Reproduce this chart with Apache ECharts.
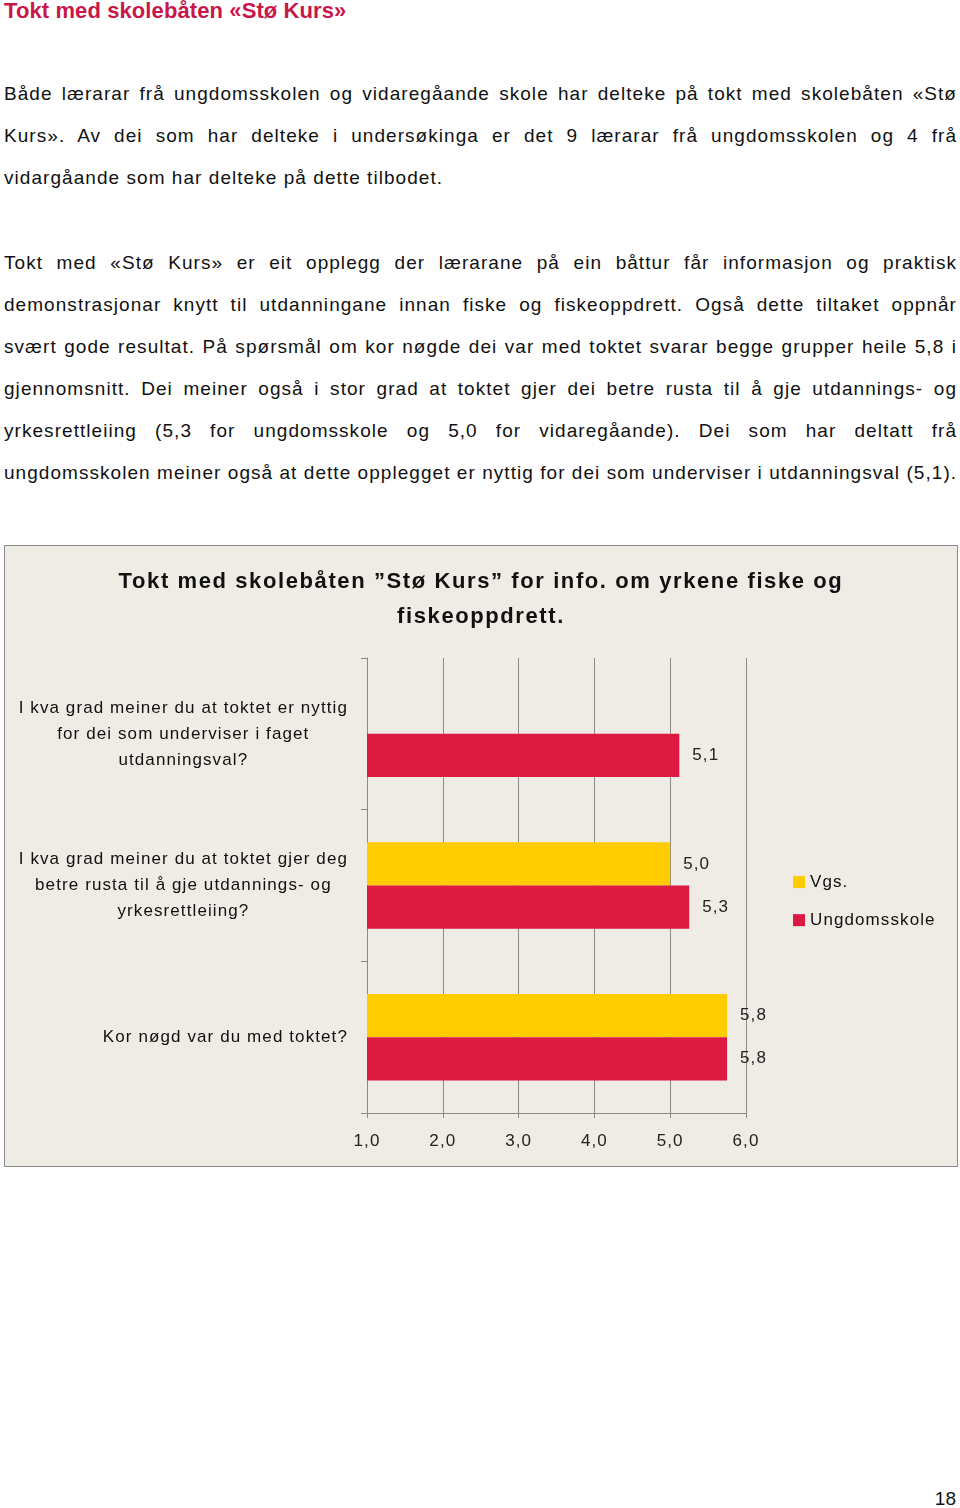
<!DOCTYPE html>
<html>
<head>
<meta charset="utf-8">
<script src="https://cdn.jsdelivr.net/npm/echarts@6/dist/echarts.min.js"></script>
<style>
  html, body { margin: 0; padding: 0; background: #fff; }
  body { width: 960px; height: 1508px; position: relative; overflow: hidden; font-family: "Liberation Sans", Arial, sans-serif; color: #111; }
  .h1 { position: absolute; left: 4px; top: -2px; font-size: 22px; font-weight: bold; color: #c8174a; line-height: 26px; white-space: nowrap; letter-spacing: 0.1px; }
  .para { position: absolute; left: 4px; width: 953px; font-size: 19px; line-height: 42px; letter-spacing: 1.05px; }
  .para div { white-space: nowrap; text-align: justify; text-align-last: justify; }
  .para div.last { text-align: left; text-align-last: left; }
  #chart { position: absolute; left: 4px; top: 545px; width: 954px; height: 622px; box-sizing: border-box; border: 1px solid #8c8c8c; background: #efebe5; }
  .pnum { position: absolute; right: 4px; top: 1487px; font-size: 19px; line-height: 24px; }
</style>
</head>
<body>
<div class="h1">Tokt med skolebåten «Stø Kurs»</div>
<div class="para" style="top:73px">
  <div>Både lærarar frå ungdomsskolen og vidaregåande skole har delteke på tokt med skolebåten «Stø</div>
  <div>Kurs». Av dei som har delteke i undersøkinga er det 9 lærarar frå ungdomsskolen og 4 frå</div>
  <div class="last">vidargåande som har delteke på dette tilbodet.</div>
</div>
<div class="para" style="top:242px">
  <div>Tokt med «Stø Kurs» er eit opplegg der lærarane på ein båttur får informasjon og praktisk</div>
  <div>demonstrasjonar knytt til utdanningane innan fiske og fiskeoppdrett. Også dette tiltaket oppnår</div>
  <div>svært gode resultat. På spørsmål om kor nøgde dei var med toktet svarar begge grupper heile 5,8 i</div>
  <div>gjennomsnitt. Dei meiner også i stor grad at toktet gjer dei betre rusta til å gje utdannings- og</div>
  <div>yrkesrettleiing (5,3 for ungdomsskole og 5,0 for vidaregåande). Dei som har deltatt frå</div>
  <div class="last">ungdomsskolen meiner også at dette opplegget er nyttig for dei som underviser i utdanningsval (5,1).</div>
</div>
<div id="chart"></div>
<div class="pnum">18</div>
<script>
const chartTitle = "Tokt med skolebåten ”Stø Kurs” for info. om yrkene fiske og\nfiskeoppdrett.";
const categories = [
  "I kva grad meiner du at toktet er nyttig\nfor dei som underviser i faget\nutdanningsval?",
  "I kva grad meiner du at toktet gjer deg\nbetre rusta til å gje utdannings- og\nyrkesrettleiing?",
  "Kor nøgd var du med toktet?"
];
const seriesNames = ["Vgs.", "Ungdomsskole"];
const vgsValues = [null, 5.0, 5.75];
const ungdomValues = [5.12, 5.25, 5.75];
const xTickMin = 1, xTickMax = 6, xTickStep = 1;

// Letter spacing for canvas text (the source PDF text is tracked wider); applied to both
// measuring and drawing so that ECharts' own layout stays consistent.
(function () {
  const proto = window.CanvasRenderingContext2D && CanvasRenderingContext2D.prototype;
  if (!proto || !('letterSpacing' in proto)) return;
  const desc = Object.getOwnPropertyDescriptor(proto, 'font');
  if (!desc || !desc.set) return;
  Object.defineProperty(proto, 'font', {
    configurable: true,
    get() { return desc.get.call(this); },
    set(v) {
      desc.set.call(this, v);
      const bold = /bold|[6-9]00/.test(String(v));
      try { this.letterSpacing = bold ? '1.6px' : '1.1px'; } catch (e) {}
    }
  });
})();

const FONT = '"Liberation Sans", Arial, sans-serif';
const fmt = v => Number(v).toFixed(1).replace('.', ',');

const chart = echarts.init(document.getElementById('chart'), null, { renderer: 'canvas' });
chart.setOption({
  backgroundColor: '#efebe5',
  animation: false,
  textStyle: { fontFamily: FONT },
  title: {
    text: chartTitle.split('\n').map(l => '{t|' + l + '}').join('\n'),
    left: 'center',
    top: 13,
    textStyle: {
      fontSize: 22, fontWeight: 'bold', color: '#111', fontFamily: FONT,
      rich: { t: { align: 'center', fontSize: 22, fontWeight: 'bold', lineHeight: 35, color: '#111', fontFamily: FONT } }
    }
  },
  legend: {
    orient: 'vertical',
    left: 783,
    top: 322,
    itemWidth: 12,
    itemHeight: 12,
    itemGap: 20,
    icon: 'rect',
    data: seriesNames,
    textStyle: { fontSize: 17, color: '#111', fontFamily: FONT, lineHeight: 17 }
  },
  grid: { left: 362, top: 112, width: 379, height: 455, containLabel: false },
  xAxis: {
    type: 'value',
    min: xTickMin,
    max: xTickMax,
    interval: xTickStep,
    axisLine: { show: true, lineStyle: { color: '#8a8a8a', width: 1 } },
    axisTick: { show: true, length: 5, lineStyle: { color: '#8a8a8a' } },
    splitLine: { show: true, lineStyle: { color: '#8a8a8a', width: 1 } },
    axisLabel: { fontSize: 17, color: '#222', margin: 19, fontFamily: FONT, formatter: fmt }
  },
  yAxis: {
    type: 'category',
    inverse: true,
    data: categories,
    axisLine: { show: true, lineStyle: { color: '#8a8a8a', width: 1 } },
    axisTick: { show: true, length: 6, lineStyle: { color: '#8a8a8a' } },
    splitLine: { show: false },
    axisLabel: {
      margin: 19,
      fontFamily: FONT,
      formatter: v => v.split('\n').map(l => '{c|' + l + '}').join('\n'),
      rich: { c: { align: 'center', fontSize: 17, lineHeight: 26, color: '#111', fontFamily: FONT } }
    }
  },
  series: [
    {
      name: seriesNames[0], type: 'bar', data: vgsValues,
      itemStyle: { color: '#ffcc00' },
      barGap: '0%', barCategoryGap: '43%',
      label: { show: true, position: 'right', distance: 13, fontSize: 17, color: '#222', fontFamily: FONT, formatter: p => fmt(p.value) }
    },
    {
      name: seriesNames[1], type: 'bar', data: ungdomValues,
      itemStyle: { color: '#dc1a41' },
      barGap: '0%', barCategoryGap: '43%',
      label: { show: true, position: 'right', distance: 13, fontSize: 17, color: '#222', fontFamily: FONT, formatter: p => fmt(p.value) }
    }
  ]
});
</script>
</body>
</html>
